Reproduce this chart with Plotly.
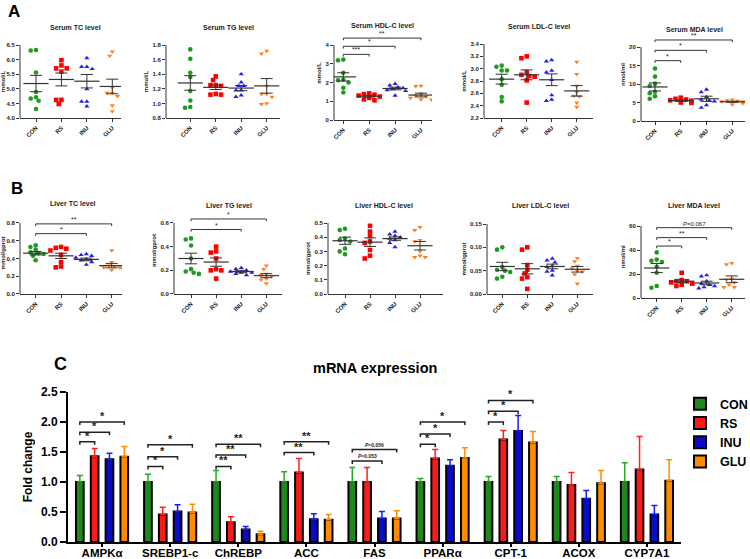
import plotly.graph_objects as go

W, H = 750, 559
FONT = "Liberation Sans"

groups = ["CON", "RS", "INU", "GLU"]
pt_colors = ["#1f9a1f", "#ff0000", "#2323e6", "#ff7f27"]
pt_symbols = ["circle", "square", "triangle-up", "triangle-down"]

# ---------------- Panel A (serum) ----------------
serum_tc = [[6.33, 6.31, 5.56, 4.89, 4.71, 4.67, 4.59, 4.31],
            [5.98, 5.80, 5.70, 5.70, 5.59, 4.62, 4.62, 4.48],
            [6.05, 5.75, 5.75, 5.68, 4.99, 4.56, 4.56, 4.40],
            [6.27, 6.13, 5.05, 4.86, 4.86, 4.75, 4.43, 4.23]]
serum_tc_mean = [5.18, 5.32, 5.26, 5.08]
serum_tc_sem = [0.28, 0.22, 0.23, 0.25]
serum_tc_ticks = [4.0, 4.5, 5.0, 5.5, 6.0, 6.5]

serum_tg = [[1.74, 1.61, 1.42, 1.36, 1.17, 1.04, 0.95, 0.94],
            [1.37, 1.32, 1.25, 1.25, 1.24, 1.13, 1.12, 1.12],
            [1.40, 1.29, 1.24, 1.24, 1.18, 1.18, 1.11, 1.09],
            [1.72, 1.68, 1.24, 1.13, 1.13, 1.09, 1.00, 0.99]]
serum_tg_mean = [1.28, 1.22, 1.21, 1.24]
serum_tg_sem = [0.10, 0.03, 0.035, 0.10]
serum_tg_ticks = [0.8, 1.0, 1.2, 1.4, 1.6, 1.8]

serum_hdl = [[3.22, 3.18, 2.52, 2.15, 2.12, 2.00, 1.72, 1.47],
             [1.42, 1.38, 1.35, 1.30, 1.25, 1.18, 1.10, 1.05],
             [1.93, 1.85, 1.75, 1.70, 1.65, 1.60, 1.55, 1.30],
             [1.82, 1.80, 1.40, 1.30, 1.25, 1.18, 1.10, 1.08]]
serum_hdl_mean = [2.30, 1.27, 1.68, 1.33]
serum_hdl_sem = [0.22, 0.05, 0.07, 0.10]
serum_hdl_ticks = [0, 1, 2, 3, 4]
serum_hdl_sig = [(1, 3.50, "***"), (2, 3.93, "*"), (3, 4.37, "**")]

serum_ldl = [[3.05, 3.03, 2.97, 2.97, 2.83, 2.74, 2.54, 2.47],
             [3.20, 3.17, 2.94, 2.90, 2.88, 2.87, 2.81, 2.45],
             [3.14, 3.12, 2.97, 2.94, 2.82, 2.57, 2.50, 2.48],
             [3.11, 2.91, 2.72, 2.62, 2.56, 2.55, 2.45, 2.38]]
serum_ldl_mean = [2.83, 2.90, 2.82, 2.64]
serum_ldl_sem = [0.08, 0.08, 0.095, 0.085]
serum_ldl_ticks = [2.2, 2.4, 2.6, 2.8, 3.0, 3.2, 3.4]

serum_mda = [[14.2, 12.0, 10.1, 9.5, 7.9, 7.5, 6.7, 6.0],
             [6.3, 6.0, 5.8, 5.6, 5.5, 5.3, 5.0, 4.9],
             [8.5, 7.8, 6.5, 5.8, 5.5, 5.3, 4.3, 3.6],
             [5.8, 5.6, 5.4, 5.3, 5.2, 5.1, 4.8, 4.5]]
serum_mda_mean = [9.2, 5.5, 6.0, 5.2]
serum_mda_sem = [1.1, 0.2, 0.7, 0.15]
serum_mda_ticks = [0, 5, 10, 15, 20]
serum_mda_sig = [(1, 16.3, "*"), (2, 19.1, "*"), (3, 21.9, "**")]

# ---------------- Panel B (liver) ----------------
liver_tc = [[0.55, 0.53, 0.50, 0.47, 0.46, 0.45, 0.43, 0.38],
            [0.53, 0.52, 0.51, 0.49, 0.44, 0.36, 0.31, 0.30],
            [0.45, 0.44, 0.43, 0.41, 0.39, 0.38, 0.36, 0.33],
            [0.49, 0.36, 0.32, 0.31, 0.30, 0.30, 0.29, 0.27]]
liver_tc_mean = [0.46, 0.43, 0.39, 0.32]
liver_tc_sem = [0.02, 0.03, 0.015, 0.025]
liver_tc_ticks = [0.0, 0.2, 0.4, 0.6, 0.8]
liver_tc_sig = [(2, 0.68, "*"), (3, 0.79, "**")]

liver_tg = [[0.47, 0.46, 0.41, 0.30, 0.21, 0.19, 0.18, 0.17],
            [0.40, 0.36, 0.35, 0.30, 0.21, 0.20, 0.20, 0.13],
            [0.22, 0.21, 0.20, 0.19, 0.18, 0.18, 0.17, 0.16],
            [0.24, 0.21, 0.17, 0.16, 0.15, 0.13, 0.12, 0.09]]
liver_tg_mean = [0.30, 0.27, 0.19, 0.155]
liver_tg_sem = [0.045, 0.035, 0.01, 0.017]
liver_tg_ticks = [0.0, 0.2, 0.4, 0.6]
liver_tg_sig = [(2, 0.545, "*"), (3, 0.634, "*")]

liver_hdl = [[0.46, 0.45, 0.39, 0.38, 0.37, 0.32, 0.30, 0.28],
             [0.48, 0.44, 0.41, 0.37, 0.36, 0.31, 0.27, 0.25],
             [0.44, 0.42, 0.41, 0.40, 0.39, 0.38, 0.36, 0.33],
             [0.47, 0.45, 0.38, 0.37, 0.30, 0.27, 0.26, 0.26]]
liver_hdl_mean = [0.375, 0.365, 0.39, 0.34]
liver_hdl_sem = [0.025, 0.03, 0.012, 0.03]
liver_hdl_ticks = [0.0, 0.1, 0.2, 0.3, 0.4, 0.5]

liver_ldl = [[0.100, 0.095, 0.058, 0.052, 0.050, 0.047, 0.037, 0.033],
             [0.100, 0.095, 0.062, 0.052, 0.044, 0.036, 0.033, 0.011],
             [0.076, 0.072, 0.068, 0.060, 0.058, 0.050, 0.048, 0.040],
             [0.077, 0.070, 0.060, 0.055, 0.050, 0.048, 0.042, 0.022]]
liver_ldl_mean = [0.059, 0.054, 0.059, 0.053]
liver_ldl_sem = [0.009, 0.011, 0.005, 0.006]
liver_ldl_ticks = [0.00, 0.05, 0.10, 0.15]

liver_mda = [[38, 32, 31, 30, 26, 21, 10, 8.5],
             [21, 15, 14, 14, 13, 12, 11, 10],
             [19, 18, 14, 12, 11, 10, 9, 8],
             [29, 28, 16, 15, 13, 11, 9, 9]]
liver_mda_mean = [25, 14, 12.5, 15.6]
liver_mda_sem = [3.8, 1.2, 1.5, 2.8]
liver_mda_ticks = [0, 20, 40, 60]
liver_mda_sig = [(1, 43.3, "*"), (2, 50.3, "**"), (3, 58.6, "<i>P</i>=0.067")]

# ---------------- Panel C (mRNA) ----------------
genes = ["AMPKα", "SREBP1-c", "ChREBP", "ACC", "FAS", "PPARα", "CPT-1", "ACOX", "CYP7A1"]
con_fc = [1.00, 1.00, 1.00, 1.00, 1.00, 1.00, 1.00, 1.00, 1.00]
con_err = [0.11, 0.13, 0.19, 0.17, 0.24, 0.06, 0.09, 0.09, 0.32]
rs_fc = [1.43, 0.46, 0.33, 1.16, 1.00, 1.39, 1.71, 0.95, 1.21]
rs_err = [0.13, 0.12, 0.09, 0.23, 0.24, 0.15, 0.15, 0.21, 0.55]
inu_fc = [1.38, 0.51, 0.21, 0.38, 0.39, 1.27, 1.85, 0.72, 0.46]
inu_err = [0.10, 0.11, 0.05, 0.09, 0.12, 0.10, 0.26, 0.14, 0.15]
glu_fc = [1.42, 0.49, 0.13, 0.37, 0.39, 1.40, 1.66, 0.98, 1.02]
glu_err = [0.17, 0.14, 0.05, 0.09, 0.13, 0.17, 0.18, 0.21, 0.35]
mrna_ticks = [0.0, 0.5, 1.0, 1.5, 2.0, 2.5]
mrna_sig = [(0, 1, 1.67, "*"), (0, 2, 1.83, "*"), (0, 3, 2.00, "*"),
            (1, 1, 1.26, "*"), (1, 2, 1.42, "*"), (1, 3, 1.62, "*"),
            (2, 1, 1.26, "**"), (2, 2, 1.45, "**"), (2, 3, 1.63, "**"),
            (3, 2, 1.49, "**"), (3, 3, 1.67, "**"),
            (4, 2, 1.35, "<i>P</i>=0.053"), (4, 3, 1.54, "<i>P</i>=0.056"),
            (5, 1, 1.63, "*"), (5, 2, 1.80, "*"), (5, 3, 2.00, "*"),
            (6, 1, 2.00, "*"), (6, 2, 2.18, "*"), (6, 3, 2.36, "*")]
bar_fill = ["#1b8a1b", "#ff1a1a", "#0a0acc", "#ff8c00"]
bar_err_col = ["#22aa22", "#ff2020", "#1a1aff", "#ff8c00"]

# ---------------- layout geometry (pixels) ----------------
panels = [
    (serum_tc, serum_tc_mean, serum_tc_sem, serum_tc_ticks, ".1f", "Serum TC level", "mmol/L", [],
     20, 36, 112.3, 121, 118, 45, 75, 28),
    (serum_tg, serum_tg_mean, serum_tg_sem, serum_tg_ticks, ".1f", "Serum TG level", "mmol/L", [],
     166, 190.3, 266.7, 280, 118, 45, 228, 28),
    (serum_hdl, serum_hdl_mean, serum_hdl_sem, serum_hdl_ticks, "d", "Serum HDL-C level", "mmol/L", serum_hdl_sig,
     334, 343.3, 421, 432, 120, 45, 382, 26),
    (serum_ldl, serum_ldl_mean, serum_ldl_sem, serum_ldl_ticks, ".1f", "Serum LDL-C level", "mmol/L", [],
     484, 501.7, 576.7, 593, 118, 44, 539, 27),
    (serum_mda, serum_mda_mean, serum_mda_sem, serum_mda_ticks, "d", "Serum MDA level", "nmol/ml", serum_mda_sig,
     641, 655, 732.3, 745, 121, 47, 694, 29),
    (liver_tc, liver_tc_mean, liver_tc_sem, liver_tc_ticks, ".1f", "Liver TC level", "mmol/gprot", liver_tc_sig,
     20, 35.7, 111.7, 122, 294, 223, 73, 204),
    (liver_tg, liver_tg_mean, liver_tg_sem, liver_tg_ticks, ".1f", "Liver TG level", "mmol/gprot", liver_tg_sig,
     174, 191, 266.3, 282, 294, 223, 229, 205),
    (liver_hdl, liver_hdl_mean, liver_hdl_sem, liver_hdl_ticks, ".1f", "Liver HDL-C level", "mmol/gprot", [],
     328, 345, 420, 443, 294, 223, 384, 205),
    (liver_ldl, liver_ldl_mean, liver_ldl_sem, liver_ldl_ticks, ".2f", "Liver LDL-C level", "mmol/gprot", [],
     487, 502.3, 577.3, 593, 294, 224, 540, 206),
    (liver_mda, liver_mda_mean, liver_mda_sem, liver_mda_ticks, "d", "Liver MDA level", "nmol/ml", liver_mda_sig,
     641, 656.7, 731.7, 745, 298, 226, 694, 206),
]

AX = "#333333"
fig = go.Figure()
layout = dict(width=W, height=H, margin=dict(l=0, r=0, t=0, b=0, autoexpand=False), autosize=False,
              paper_bgcolor="white", plot_bgcolor="rgba(0,0,0,0)",
              font=dict(family=FONT, color="#222"))
shapes, annotations = [], []


def swarm(vals, ppu, d):
    n = len(vals)
    offs = [0.0] * n
    placed = []
    for i in sorted(range(n), key=lambda k: -vals[k]):
        ypx = vals[i] * ppu
        for k in [0, -1, 1, -2, 2, -3, 3, -4, 4]:
            xpx = k * d * 0.6
            if all((xpx - px) ** 2 + (ypx - py) ** 2 >= (d * 0.95) ** 2 for px, py in placed):
                break
        placed.append((xpx, ypx))
        offs[i] = xpx
    return offs


for p, (data, mean, sem, ticks, tfmt, title, ylab, sig,
        ax0, c0, c3, ax1, ybot, ytop, tx, ty) in enumerate(panels):
    n = p + 1
    xs = "" if n == 1 else str(n)
    spacing = (c3 - c0) / 3
    xr = [(ax0 - c0) / spacing, 3 + (ax1 - c3) / spacing]
    ymin, ytopv = ticks[0], ticks[-1]
    ppu = (ybot - ytop) / (ytopv - ymin)
    yext = ytopv
    if sig:
        yext = max(ytopv, max(s[1] for s in sig) + 12 / ppu)
    top_px = ybot - (yext - ymin) * ppu
    layout["xaxis" + xs] = dict(domain=[ax0 / W, ax1 / W], range=xr, anchor="y" + xs,
                                tickvals=[0, 1, 2, 3], ticktext=groups, tickangle=-45,
                                showline=True, linecolor=AX, linewidth=1, ticks="outside",
                                ticklen=3, tickwidth=1, tickcolor=AX, showgrid=False, zeroline=False,
                                automargin=False,
                                tickfont=dict(size=6, family=FONT, weight="bold", color="#222"))
    layout["yaxis" + xs] = dict(domain=[1 - ybot / H, 1 - top_px / H], range=[ymin, yext],
                                anchor="x" + xs, tickvals=ticks, tickformat=tfmt,
                                showline=False, ticks="outside", ticklen=3, tickwidth=1,
                                tickcolor=AX, showgrid=False, zeroline=False, automargin=False,
                                tickfont=dict(size=6, family=FONT, weight="bold", color="#222"),
                                title=dict(text=ylab, standoff=3,
                                           font=dict(size=6, family=FONT, weight="bold", color="#222")))
    shapes.append(dict(type="line", xref="x" + xs + " domain", yref="y" + xs, x0=0, x1=0,
                       y0=ymin, y1=ytopv, line=dict(color=AX, width=1)))
    for g in range(4):
        offs = swarm(data[g], ppu, 4.4)
        fig.add_trace(go.Scatter(
            x=[g + o / spacing for o in offs], y=data[g], mode="markers",
            marker=dict(symbol=pt_symbols[g], size=4.6, color=pt_colors[g], line=dict(width=0)),
            xaxis="x" + xs, yaxis="y" + xs, showlegend=False, hoverinfo="y"))
    fig.add_trace(go.Scatter(
        x=[0, 1, 2, 3], y=mean, mode="markers",
        marker=dict(symbol="line-ew", size=18, line=dict(width=1.2, color=AX)),
        error_y=dict(type="data", array=sem, width=6, thickness=1, color=AX),
        xaxis="x" + xs, yaxis="y" + xs, showlegend=False, hoverinfo="y"))
    t = 2.2 / ppu
    for (tg, h, lab) in sig:
        shapes.append(dict(type="path", xref="x" + xs, yref="y" + xs,
                           path=f"M0,{h - t} L0,{h} L{tg},{h} L{tg},{h - t}",
                           line=dict(color=AX, width=1)))
        annotations.append(dict(x=tg / 2, y=h, xref="x" + xs, yref="y" + xs, text=lab,
                                showarrow=False, yanchor="bottom", yshift=-1,
                                font=dict(size=7 if "P" not in lab else 6, family=FONT, color="#222")))
    annotations.append(dict(x=tx / W, y=1 - ty / H, xref="paper", yref="paper", text=title,
                            showarrow=False, xanchor="center", yanchor="middle",
                            font=dict(size=7, family=FONT, weight="bold", color="#222")))

# ---------------- panel C ----------------
cx = "12"
cx0, cx1, cy0, cy1 = 68, 681, 542, 392
layout["xaxis" + cx] = dict(domain=[cx0 / W, cx1 / W], range=[-0.5, 8.5], anchor="y" + cx,
                            showline=True, linecolor="black", linewidth=2, ticks="outside",
                            ticklen=3, tickwidth=1.5, tickcolor="black", showgrid=False,
                            zeroline=False, type="category", automargin=False,
                            ticklabelstandoff=-4,
                            tickfont=dict(size=11.5, family=FONT, weight="bold", color="black"))
layout["yaxis" + cx] = dict(domain=[1 - cy0 / H, 1 - cy1 / H], range=[0, 2.5], anchor="x" + cx,
                            tickvals=mrna_ticks, tickformat=".1f", showline=True, linecolor="black",
                            linewidth=2, ticks="outside", ticklen=6, tickwidth=2, tickcolor="black",
                            showgrid=False, zeroline=False, automargin=False,
                            tickfont=dict(size=12, family=FONT, weight="bold", color="black"),
                            title=dict(text="Fold change", standoff=6,
                                       font=dict(size=12, family=FONT, weight="bold", color="black")))
series = [(con_fc, con_err), (rs_fc, rs_err), (inu_fc, inu_err), (glu_fc, glu_err)]
for g, (vals, err) in enumerate(series):
    fig.add_trace(go.Bar(
        x=genes, y=vals, name=groups[g],
        marker=dict(color=bar_fill[g], line=dict(color="black", width=2)),
        error_y=dict(type="data", array=err, arrayminus=[0] * len(err), symmetric=False,
                     color=bar_err_col[g], thickness=1.5, width=3),
        xaxis="x" + cx, yaxis="y" + cx, showlegend=True))
layout["barmode"] = "group"
layout["bargap"] = 0.13
layout["bargroupgap"] = 0.48
slot = (1 - 0.13) / 4
boff = [-(1 - 0.13) / 2 + slot * (i + 0.5) for i in range(4)]
ct = 0.05
for (gi, tg, h, lab) in mrna_sig:
    xa, xb = gi + boff[0], gi + boff[tg]
    shapes.append(dict(type="path", xref="x" + cx, yref="y" + cx,
                       path=f"M{xa},{h - ct} L{xa},{h} L{xb},{h} L{xb},{h - ct}",
                       line=dict(color="#222", width=1.5)))
    small = "P" in lab
    annotations.append(dict(x=(xa + xb) / 2, y=h, xref="x" + cx, yref="y" + cx, text=lab,
                            showarrow=False, yanchor="bottom", yshift=-2 if not small else 0,
                            font=dict(size=11 if not small else 5, family=FONT,
                                      weight="bold", color="#222")))
annotations.append(dict(x=375 / W, y=1 - 368 / H, xref="paper", yref="paper", text="mRNA expression",
                        showarrow=False, font=dict(size=14.5, family=FONT, weight="bold", color="black")))

# panel letters
for lab, x, y, s in [("A", 14, 11, 17), ("B", 17, 188, 17), ("C", 60, 364, 18)]:
    annotations.append(dict(x=x / W, y=1 - y / H, xref="paper", yref="paper", text=lab,
                            showarrow=False, xanchor="center", yanchor="middle",
                            font=dict(size=s, family=FONT, weight="bold", color="black")))

layout["legend"] = dict(x=680 / W, y=1 - 389 / H, xanchor="left", yanchor="top",
                        bgcolor="rgba(0,0,0,0)",
                        font=dict(size=12.5, family=FONT, weight="bold", color="black"))
layout["shapes"] = shapes
layout["annotations"] = annotations
fig.update_layout(**layout)
fig.write_html("out.html", config={"displayModeBar": False},
               post_script="document.body.style.margin='0';document.body.style.overflow='hidden';")
